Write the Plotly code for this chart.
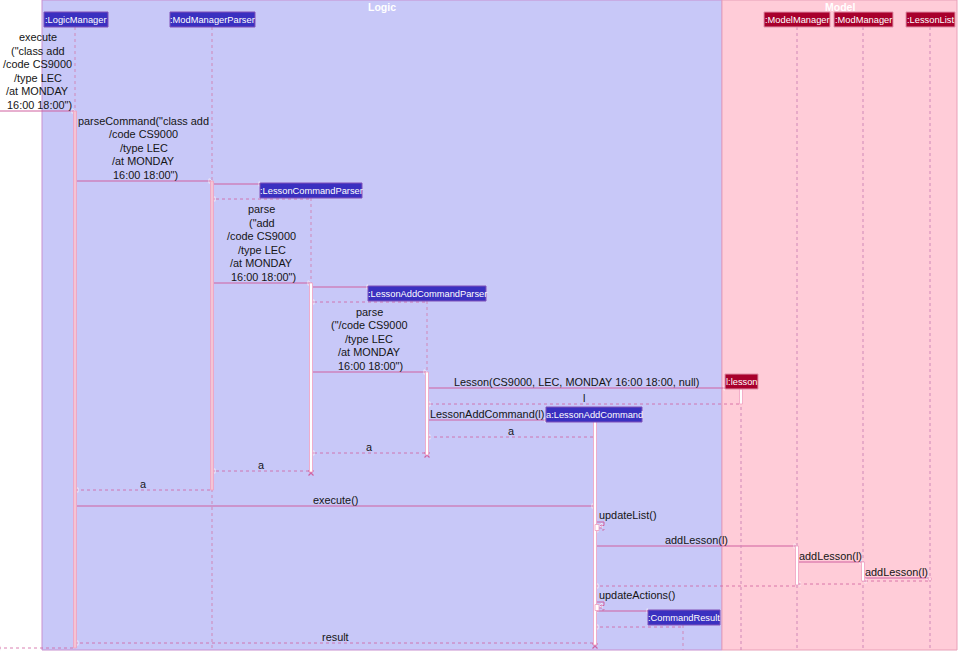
import plotly.graph_objects as go

# ---------------- data ----------------
participants = [":LogicManager", ":ModManagerParser", ":LessonCommandParser",
                ":LessonAddCommandParser", "a:LessonAddCommand", ":CommandResult",
                "l:lesson", ":ModelManager", ":ModManager", ":LessonList"]
participant_group = ["Logic", "Logic", "Logic", "Logic", "Logic", "Logic",
                     "Model", "Model", "Model", "Model"]
groups = ["Logic", "Model"]

# (source, target, label, kind)   "[" = outside caller
messages = [
    ("[", ":LogicManager", 'execute\n("class add\n/code CS9000\n/type LEC\n/at MONDAY\n 16:00 18:00")', "call"),
    (":LogicManager", ":ModManagerParser", 'parseCommand("class add\n/code CS9000\n/type LEC\n/at MONDAY\n 16:00 18:00")', "call"),
    (":ModManagerParser", ":LessonCommandParser", "", "create"),
    (":LessonCommandParser", ":ModManagerParser", "", "return"),
    (":ModManagerParser", ":LessonCommandParser", 'parse\n("add\n/code CS9000\n/type LEC\n/at MONDAY\n 16:00 18:00")', "call"),
    (":LessonCommandParser", ":LessonAddCommandParser", "", "create"),
    (":LessonAddCommandParser", ":LessonCommandParser", "", "return"),
    (":LessonCommandParser", ":LessonAddCommandParser", 'parse\n("/code CS9000\n/type LEC\n/at MONDAY\n 16:00 18:00")', "call"),
    (":LessonAddCommandParser", "l:lesson", "Lesson(CS9000, LEC, MONDAY 16:00 18:00, null)", "create"),
    ("l:lesson", ":LessonAddCommandParser", "l", "return"),
    (":LessonAddCommandParser", "a:LessonAddCommand", "LessonAddCommand(l)", "create"),
    ("a:LessonAddCommand", ":LessonAddCommandParser", "a", "return"),
    (":LessonAddCommandParser", ":LessonCommandParser", "a", "return"),
    (":LessonCommandParser", ":ModManagerParser", "a", "return"),
    (":ModManagerParser", ":LogicManager", "a", "return"),
    (":LogicManager", "a:LessonAddCommand", "execute()", "call"),
    ("a:LessonAddCommand", "a:LessonAddCommand", "updateList()", "self"),
    ("a:LessonAddCommand", ":ModelManager", "addLesson(l)", "call"),
    (":ModelManager", ":ModManager", "addLesson(l)", "call"),
    (":ModManager", ":LessonList", "addLesson(l)", "call"),
    (":LessonList", ":ModManager", "", "return"),
    (":ModManager", ":ModelManager", "", "return"),
    (":ModelManager", "a:LessonAddCommand", "", "return"),
    ("a:LessonAddCommand", "a:LessonAddCommand", "updateActions()", "self"),
    ("a:LessonAddCommand", ":CommandResult", "", "create"),
    (":CommandResult", "a:LessonAddCommand", "", "return"),
    ("a:LessonAddCommand", ":LogicManager", "result", "return"),
    (":LogicManager", "[", "", "return"),
]
destroyed = [":LessonAddCommandParser", ":LessonCommandParser", "a:LessonAddCommand"]

# ---------------- layout (pixel geometry) ----------------
W, H = 959, 653
group_box = {"Logic": (42, 722), "Model": (722, 957)}
group_bottom = 650
lifeline_x = {":LogicManager": 75, ":ModManagerParser": 212, ":LessonCommandParser": 311,
              ":LessonAddCommandParser": 427, "a:LessonAddCommand": 595, ":CommandResult": 683,
              "l:lesson": 741, ":ModelManager": 797, ":ModManager": 863, ":LessonList": 930, "[": 0}
box_x = {":LogicManager": (44, 108), ":ModManagerParser": (170, 255),
         ":LessonCommandParser": (260, 362), ":LessonAddCommandParser": (368, 486),
         "a:LessonAddCommand": (546, 642), ":CommandResult": (648, 720),
         "l:lesson": (725, 758), ":ModelManager": (764, 830), ":ModManager": (834, 893),
         ":LessonList": (906, 955)}
box_y = {":LogicManager": 12, ":ModManagerParser": 12, ":LessonCommandParser": 183,
         ":LessonAddCommandParser": 286, "a:LessonAddCommand": 407, ":CommandResult": 610,
         "l:lesson": 374, ":ModelManager": 12, ":ModManager": 12, ":LessonList": 12}
box_h = 15
message_y = [111, 181, 184, 199, 283, 287, 302, 372, 388, 404, 420, 437, 453, 471, 490,
             506, 522, 546, 562, 578, 581, 584, 586, 602, 611, 627, 643, 648]
activations = [(":LogicManager", 111, 648, "#F4C4D4"), (":ModManagerParser", 181, 490, "#F4C4D4"),
               (":LessonCommandParser", 283, 472, "#FFFFFF"), (":LessonAddCommandParser", 372, 455, "#FFFFFF"),
               ("l:lesson", 389, 404, "#FFFFFF"), ("a:LessonAddCommand", 421, 645, "#FFFFFF"),
               (":ModelManager", 546, 585, "#FFFFFF"), (":ModManager", 562, 581, "#FFFFFF"),
               (":LessonList", 578, 580, "#FFFFFF")]
destroy_y = {":LessonAddCommandParser": 455, ":LessonCommandParser": 473, "a:LessonAddCommand": 646}

group_fill = {"Logic": "#C8C8F8", "Model": "#FFCCD8"}
group_line = {"Logic": "#C890D0", "Model": "#E8A0B8"}
box_fill = {"Logic": "#3A30C0", "Model": "#A8002C"}
box_line = {"Logic": "#8050B8", "Model": "#E090A8"}
msg_color = "#D060A0"
life_color = "#D088B8"
text_color = "#151515"
FONT = "Liberation Sans, Arial, sans-serif"
MSG_SIZE = 10.9
BOX_SIZE = 9.3
LINE_H = 13.6

fig = go.Figure()
shapes, annos = [], []

# groups
for g in groups:
    x0, x1 = group_box[g]
    shapes.append(dict(type="rect", x0=x0, x1=x1, y0=0, y1=group_bottom,
                       fillcolor=group_fill[g], line=dict(color=group_line[g], width=1), layer="below"))
    annos.append(dict(x=(x0 + x1) / 2, y=6.5, text="<b>%s</b>" % g, showarrow=False,
                      font=dict(family=FONT, size=10.5, color="white")))

# lifelines
for p in participants:
    x = lifeline_x[p]
    top = box_y[p] + box_h
    bottom = destroy_y.get(p, group_bottom)
    shapes.append(dict(type="line", x0=x, x1=x, y0=top, y1=bottom,
                       line=dict(color=life_color, width=1, dash="dot")))

# activations
for p, a0, a1, col in activations:
    x = lifeline_x[p]
    shapes.append(dict(type="rect", x0=x - 1.5, x1=x + 1.5, y0=a0, y1=a1,
                       fillcolor=col, line=dict(color="#F0A0C0", width=0.8)))

# participant boxes
for p, g in zip(participants, participant_group):
    x0, x1 = box_x[p]
    y0 = box_y[p]
    shapes.append(dict(type="rect", x0=x0, x1=x1, y0=y0, y1=y0 + box_h,
                       fillcolor=box_fill[g], line=dict(color=box_line[g], width=1)))
    annos.append(dict(x=(x0 + x1) / 2, y=y0 + box_h / 2 + 0.5, text=p, showarrow=False,
                      font=dict(family=FONT, size=BOX_SIZE, color="white")))

# destroy markers
for p in destroyed:
    x, y = lifeline_x[p], destroy_y[p]
    fig.add_trace(go.Scatter(x=[x], y=[y], mode="markers",
                             marker=dict(symbol="x-thin", size=5, line=dict(color=msg_color, width=1.2)),
                             hoverinfo="skip", showlegend=False))

# messages
for (src, dst, label, kind), y in zip(messages, message_y):
    xs = lifeline_x[src]
    xd = lifeline_x[dst]
    if kind == "self":
        x = xs + 2
        fig.add_trace(go.Scatter(x=[x, x + 7, x + 7, x + 4], y=[y, y, y + 3.5, y + 3.5],
                                 mode="lines+markers", line=dict(color=msg_color, width=1),
                                 marker=dict(symbol="triangle-left", size=[0, 0, 0, 4], color=msg_color),
                                 hoverinfo="skip", showlegend=False))
        fig.add_trace(go.Scatter(x=[x + 2, x + 7, x + 7, x], y=[y + 6, y + 6, y + 8, y + 8],
                                 mode="lines+markers", line=dict(color=msg_color, width=0.8, dash="dot"),
                                 marker=dict(symbol="triangle-left", size=[0, 0, 0, 4], color=msg_color),
                                 hoverinfo="skip", showlegend=False))
        shapes.append(dict(type="rect", x0=xs, x1=xs + 4, y0=y + 2.5, y1=y + 8.5,
                           fillcolor="#FFFFFF", line=dict(color="#F0A0C0", width=0.8)))
        annos.append(dict(x=xs + 2, y=y - 7, text=label, showarrow=False, xanchor="left",
                          font=dict(family=FONT, size=MSG_SIZE, color=text_color)))
        continue
    right = xd > xs
    off = 2 if src != "[" else 0
    start = xs + (off if right else -off)
    if kind == "create":
        end = box_x[dst][0] if right else box_x[dst][1]
    else:
        end = xd - (2 if right else -2) if dst != "[" else xd
    dash = "dot" if kind == "return" else "solid"
    width = 0.8 if kind == "return" else 1
    sym = "triangle-right" if right else "triangle-left"
    fig.add_trace(go.Scatter(x=[start, end], y=[y, y], mode="lines+markers",
                             line=dict(color=msg_color, width=width, dash=dash),
                             marker=dict(symbol=sym, size=[0, 4], color=msg_color),
                             hoverinfo="skip", showlegend=False))
    if label:
        lines = label.split("\n")
        cx = (xs + end) / 2 if kind == "create" else (xs + xd) / 2
        n = len(lines)
        for i, ln in enumerate(lines):
            cy = y - 6 - (n - 1 - i) * LINE_H
            annos.append(dict(x=cx, y=cy, text=ln.replace(" ", "&nbsp;") if ln.startswith(" ") else ln,
                              showarrow=False,
                              font=dict(family=FONT, size=MSG_SIZE, color=text_color)))

fig.update_layout(
    width=W, height=H, margin=dict(l=0, r=0, t=0, b=0),
    paper_bgcolor="white", plot_bgcolor="white",
    xaxis=dict(range=[0, W], visible=False, fixedrange=True),
    yaxis=dict(range=[H, 0], visible=False, fixedrange=True),
    shapes=shapes, annotations=annos, showlegend=False,
)
fig.write_html("out.html", config={"displayModeBar": False},
               post_script="document.body.style.margin='0';document.body.style.overflow='hidden';")
